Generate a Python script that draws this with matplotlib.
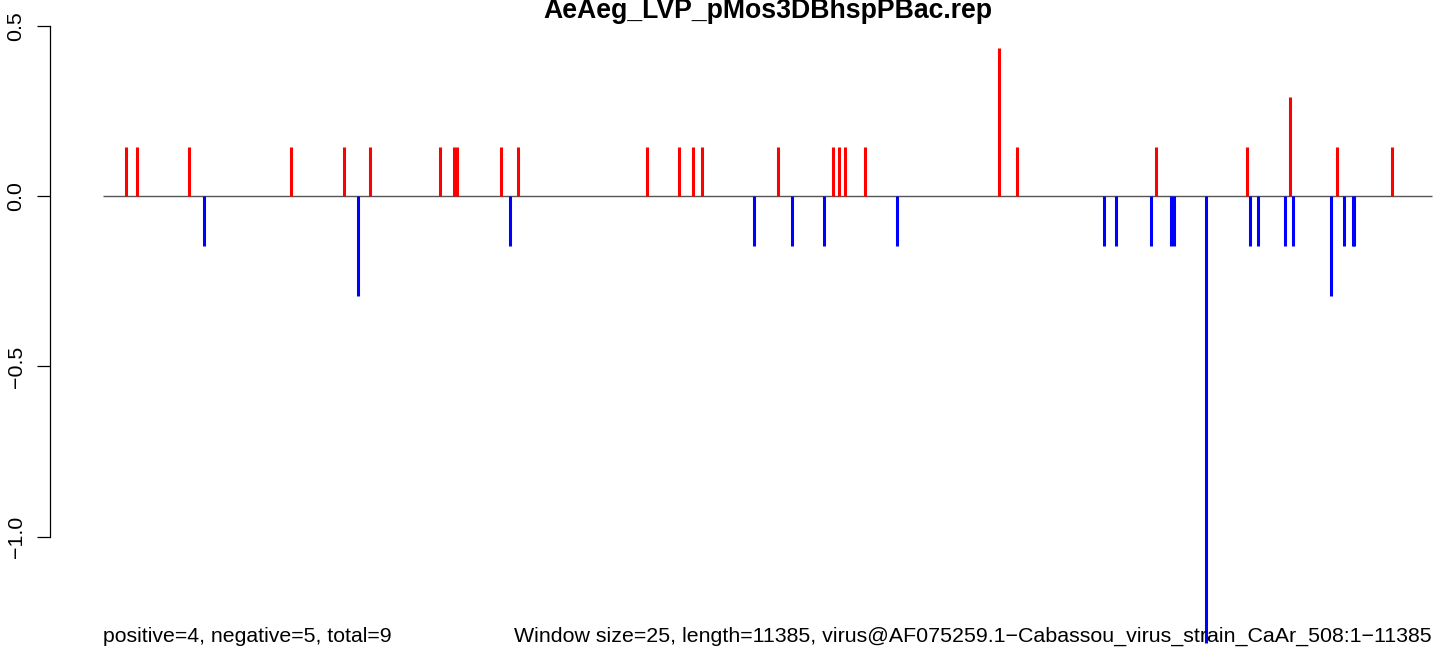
import matplotlib
matplotlib.use("Agg")
import matplotlib.pyplot as plt

plt.rcParams['font.family'] = ['Liberation Sans', 'DejaVu Sans']

# ---- data ----
seq_length = 11385
unit = 0.146
pos_x = [193, 293, 739, 1613, 2067, 2290, 2890, 3011, 3034, 3412, 3558, 4663,
         4937, 5057, 5134, 5785, 6256, 6308, 6359, 6530, 7678, 7832, 9023, 9803,
         10171, 10574, 11045]
pos_y = [1, 1, 1, 1, 1, 1, 1, 1, 1, 1, 1, 1,
         1, 1, 1, 1, 1, 1, 1, 1, 3, 1, 1, 1,
         2, 1, 1]
neg_x = [868, 2187, 3489, 5579, 5905, 6179, 6804, 8578, 8680, 8980, 9153, 9179,
         9453, 9829, 9897, 10128, 10197, 10522, 10627, 10704, 10721]
neg_y = [-1, -2, -1, -1, -1, -1, -1, -1, -1, -1, -1, -1,
         -9, -1, -1, -1, -1, -2, -1, -1, -1]
pos_vals = [v * unit for v in pos_y]
neg_vals = [v * unit for v in neg_y]
yticks = [-1.0, -0.5, 0.0, 0.5]
ytick_labels = ["\u22121.0", "\u22120.5", "0.0", "0.5"]
title = "AeAeg_LVP_pMos3DBhspPBac.rep"
left_note = "positive=4, negative=5, total=9"
right_note = ("Window size=25, length=11385, virus@AF075259.1\u2212Cabassou_virus_strain_"
              "CaAr_508:1\u221211385")

# ---- layout (pixels) ----
W, H = 1444, 656
dpi = 100
fig = plt.figure(figsize=(W / dpi, H / dpi), dpi=dpi)

x0_px, xL_px = 103.0, 1432.0          # pixel of x=0 and x=length
y0_px, y_per = 196.5, 340.0           # pixel of y=0, pixels per unit y
pxx = (xL_px - x0_px) / seq_length

xlo, xhi = -0.04 * seq_length, 1.04 * seq_length
ymax = max(pos_vals); ymin = min(neg_vals)
yr = ymax - ymin
ylo, yhi = ymin - 0.04 * yr, ymax + 0.04 * yr

ax_left_px = x0_px + xlo * pxx
ax_right_px = x0_px + xhi * pxx
ax_top_px = y0_px - yhi * y_per
ax_bot_px = y0_px - ylo * y_per

ax = fig.add_axes([ax_left_px / W, 1 - ax_bot_px / H,
                   (ax_right_px - ax_left_px) / W, (ax_bot_px - ax_top_px) / H])
ax.set_xlim(xlo, xhi)
ax.set_ylim(ylo, yhi)
ax.patch.set_alpha(0)

ax.hlines(0, 0, seq_length, colors='#555555', lw=1.0, zorder=1)
ax.vlines(pos_x, 0, pos_vals, colors='#ff0000', lw=2.2, zorder=2)
ax.vlines(neg_x, 0, neg_vals, colors='#0000ff', lw=2.2, zorder=2)

for s in ['top', 'right', 'bottom']:
    ax.spines[s].set_visible(False)
ax.spines['left'].set_bounds(-1.0, 0.5)
ax.spines['left'].set_linewidth(0.9)
ax.set_xticks([])
ax.set_yticks(yticks)
ax.set_yticklabels(ytick_labels, rotation=90, va='center', fontsize=15.4)
ax.tick_params(axis='y', length=9.5, width=0.9, pad=8)

ax.text(0, -1.295, left_note, ha='left', va='center', fontsize=15.35)
ax.text(seq_length, -1.295, right_note, ha='right', va='center', fontsize=15.42)

fig.text(((ax_left_px + ax_right_px) / 2) / W, 1 - 11 / H, title,
         ha='center', va='center', fontsize=19.2, fontweight='bold')

fig.savefig("out.png", dpi=dpi)
